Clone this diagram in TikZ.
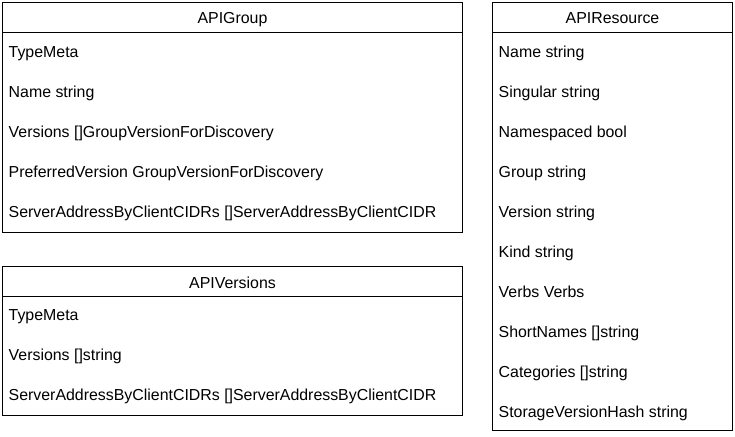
\documentclass[tikz,border=0pt]{standalone}
\usepackage{fontspec}
\setmainfont{Liberation Sans}
\begin{document}
\begin{tikzpicture}[x=1pt,y=-1pt,
  box/.style={draw=black,line width=1pt},
  head/.style={anchor=base,inner sep=0pt,font=\fontsize{15.9}{18}\selectfont},
  field/.style={anchor=base west,inner sep=0pt,font=\fontsize{15.9}{18}\selectfont}]
\useasboundingbox[fill=white] (0,0) rectangle (735,436);
% APIGroup
\draw[box] (2.5,2.5) rectangle (462.5,232.5);
\draw[box] (2.5,32.5) -- (462.5,32.5);
\node[head] (g) at (232.5,24) {APIGroup};
\node[field] (g1) at (8.5,57.5) {TypeMeta};
\node[field] (g2) at (8.5,97.5) {Name string};
\node[field] (g3) at (8.5,137.5) {Versions []GroupVersionForDiscovery};
\node[field] (g4) at (8.5,177.5) {PreferredVersion GroupVersionForDiscovery};
\node[field] (g5) at (8.5,217.5) {ServerAddressByClientCIDRs []ServerAddressByClientCIDR};
% APIVersions
\draw[box] (2.5,266.5) rectangle (462.5,415.5);
\draw[box] (2.5,296.5) -- (462.5,296.5);
\node[head] (v) at (232.5,288) {APIVersions};
\node[field] (v1) at (8.5,320) {TypeMeta};
\node[field] (v2) at (8.5,360) {Versions []string};
\node[field] (v3) at (8.5,400) {ServerAddressByClientCIDRs []ServerAddressByClientCIDR};
% APIResource
\draw[box] (492.5,2.5) rectangle (732.5,430.5);
\draw[box] (492.5,32.5) -- (732.5,32.5);
\node[head] (r) at (612.5,24) {APIResource};
\node[field] (r1) at (498.5,57.5) {Name string};
\node[field] (r2) at (498.5,97.5) {Singular string};
\node[field] (r3) at (498.5,137.5) {Namespaced bool};
\node[field] (r4) at (498.5,177.5) {Group string};
\node[field] (r5) at (498.5,217.5) {Version string};
\node[field] (r6) at (498.5,257.5) {Kind string};
\node[field] (r7) at (498.5,297.5) {Verbs Verbs};
\node[field] (r8) at (498.5,337.5) {ShortNames []string};
\node[field] (r9) at (498.5,377.5) {Categories []string};
\node[field] (r10) at (498.5,417.5) {StorageVersionHash string};
\end{tikzpicture}
\end{document}
